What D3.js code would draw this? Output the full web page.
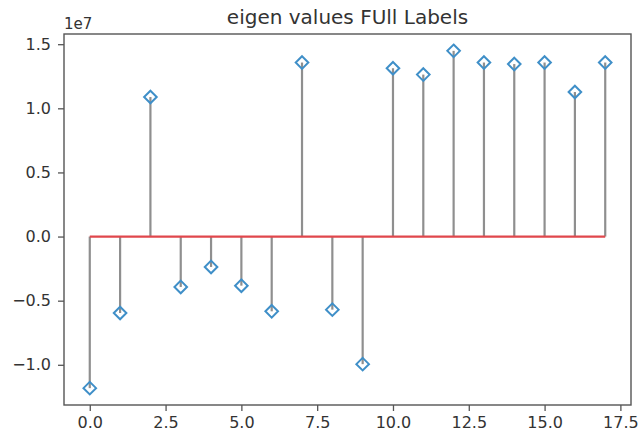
<!DOCTYPE html>
<html>
<head>
<meta charset="utf-8">
<script src="https://cdn.jsdelivr.net/npm/d3@7"></script>
<style>
  body { margin: 0; background: #fff; }
  text { font-family: "DejaVu Sans", sans-serif; fill: #333; }
</style>
</head>
<body>
<div class="board"></div>
<script>
(function() {

  // eigen values (x 1e7), index 0..17
  var indices = [0, 1, 2, 3, 4, 5, 6, 7, 8, 9, 10, 11, 12, 13, 14, 15, 16, 17];
  var eigenValues = [-1.182, -0.596, 1.088, -0.393, -0.237, -0.383, -0.583, 1.357, -0.570,
    -0.995, 1.3125, 1.263, 1.448, 1.357, 1.345, 1.357, 1.127, 1.357];
  var xTicks = [0, 2.5, 5, 7.5, 10, 12.5, 15, 17.5];
  var yTicks = [-1.0, -0.5, 0.0, 0.5, 1.0, 1.5];

  var options = { width: 639, height: 435 };
  var margin = { top: 34, right: 8, bottom: 30, left: 64 };
  var plotW = options.width - margin.left - margin.right;
  var plotH = options.height - margin.top - margin.bottom;

  var data = indices.map(function(d, i) { return { x: d, y: eigenValues[i] }; });

  var x = d3.scaleLinear().domain([-0.85, 17.85]).range([0, plotW]);
  var yMin = d3.min(eigenValues), yMax = d3.max(eigenValues);
  var pad = (yMax - yMin) * 0.05;
  var y = d3.scaleLinear().domain([yMin - pad, yMax + pad]).range([plotH, 0]);

  var board = d3.select('.board')
    .append('svg')
    .attr('width', options.width)
    .attr('height', options.height);

  var g = board.append('g')
    .attr('transform', 'translate(' + margin.left + ',' + margin.top + ')');

  // stems
  g.selectAll('line.stem')
    .data(data)
    .enter()
    .append('line')
    .attr('class', 'stem')
    .attr('x1', function(d) { return x(d.x); })
    .attr('x2', function(d) { return x(d.x); })
    .attr('y1', y(0))
    .attr('y2', function(d) { return y(d.y); })
    .style('stroke', '#8f8f8f')
    .style('stroke-width', 2.2);

  // baseline
  g.append('line')
    .attr('x1', x(0))
    .attr('x2', x(17))
    .attr('y1', y(0))
    .attr('y2', y(0))
    .style('stroke', '#e0474c')
    .style('stroke-width', 2.2);

  // diamond markers
  var r = 6.3;
  g.selectAll('path.marker')
    .data(data)
    .enter()
    .append('path')
    .attr('class', 'marker')
    .attr('d', function(d) {
      var cx = x(d.x), cy = y(d.y);
      return 'M' + cx + ',' + (cy - r) + 'L' + (cx + r) + ',' + cy +
        'L' + cx + ',' + (cy + r) + 'L' + (cx - r) + ',' + cy + 'Z';
    })
    .style('fill', 'none')
    .style('stroke', '#3f8fc8')
    .style('stroke-width', 2);

  // axes
  var xAxis = g.append('g')
    .attr('transform', 'translate(0,' + plotH + ')')
    .call(d3.axisBottom(x).tickValues(xTicks).tickSize(6).tickPadding(6)
      .tickFormat(d3.format('.1f')));
  var yAxis = g.append('g')
    .call(d3.axisLeft(y).tickValues(yTicks).tickSize(6).tickPadding(7)
      .tickFormat(function(d) { return d3.format('.1f')(d).replace('-', '\u2212'); }));

  [xAxis, yAxis].forEach(function(a) {
    a.select('.domain').remove();
    a.selectAll('line').style('stroke', '#555').style('stroke-width', 1.3);
    a.selectAll('text').style('font-size', '16px').style('fill', '#333')
      .style('font-family', '"DejaVu Sans", sans-serif');
  });

  // frame
  g.append('rect')
    .attr('width', plotW)
    .attr('height', plotH)
    .style('fill', 'none')
    .style('stroke', '#555')
    .style('stroke-width', 1.4);

  // offset label
  board.append('text')
    .attr('x', margin.left)
    .attr('y', margin.top - 5)
    .text('1e7')
    .style('font-size', '15px');

  // title
  board.append('text')
    .attr('x', margin.left + plotW / 2)
    .attr('y', 24)
    .text('eigen values FUll Labels')
    .style('font-size', '20px')
    .style('text-anchor', 'middle');

})();
</script>
</body>
</html>
